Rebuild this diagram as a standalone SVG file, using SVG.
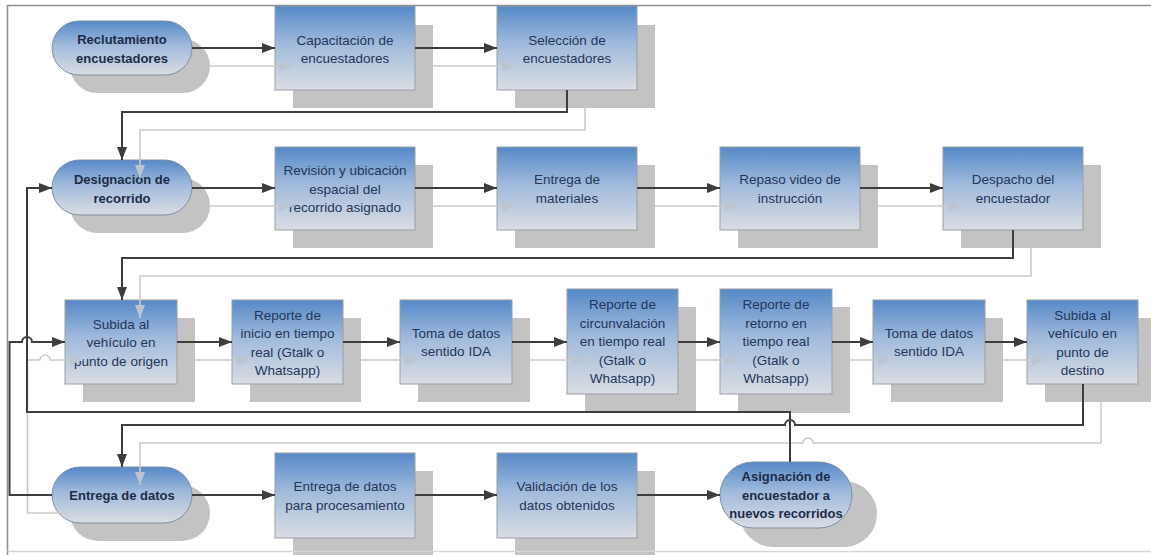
<svg xmlns="http://www.w3.org/2000/svg" width="1151" height="555" viewBox="0 0 1151 555">
<style>
.bg{fill:#ffffff}
.sh{fill:#c3c3c3}
.box{fill:url(#grad);stroke:#9a9fa6;stroke-width:1}
.pill{fill:url(#grad);stroke:#7f8fa2;stroke-width:1}
.t{font-family:"Liberation Sans",Arial,sans-serif;font-size:13.5px;fill:#23365a;text-anchor:middle}
.tb{font-family:"Liberation Sans",Arial,sans-serif;font-size:13px;font-weight:bold;fill:#1c2c48;text-anchor:middle}
.c{fill:none;stroke:#3d3d3d;stroke-width:2}
.cs{fill:none;stroke:#cbcbcb;stroke-width:1.6}
.frame{fill:none;stroke:#8a9097;stroke-width:1.5}
</style>
<defs>
<linearGradient id="grad" x1="0" y1="0" x2="0" y2="1">
<stop offset="0" stop-color="#5689c8"/>
<stop offset="0.45" stop-color="#a0badc"/>
<stop offset="1" stop-color="#dadde3"/>
</linearGradient>
<marker id="ad" markerUnits="userSpaceOnUse" markerWidth="13" markerHeight="10" refX="13" refY="5" orient="auto">
<path d="M0,0 L13,5 L0,10 z" fill="#3d3d3d"/>
</marker>
<marker id="al" markerUnits="userSpaceOnUse" markerWidth="13" markerHeight="10" refX="13" refY="5" orient="auto">
<path d="M0,0 L13,5 L0,10 z" fill="#bcc5cf"/>
</marker>
</defs>
<rect class="bg" x="0" y="0" width="1151" height="555"/>

<!-- Row 1 -->
<g id="n-reclutamiento">
<rect class="sh" x="70" y="39" width="140" height="54" rx="27"/>
<rect class="pill" x="52" y="21" width="140" height="54" rx="27"/>
<text class="tb" x="122" y="44">Reclutamiento</text>
<text class="tb" x="122" y="62.5">encuestadores</text>
</g>
<g id="n-capacitacion">
<rect class="sh" x="293" y="25" width="140" height="83"/>
<rect class="box" x="275" y="6" width="140" height="84"/>
<text class="t" x="345" y="44.5">Capacitación de</text>
<text class="t" x="345" y="63">encuestadores</text>
</g>
<g id="n-seleccion">
<rect class="sh" x="515" y="25" width="140" height="83"/>
<rect class="box" x="497" y="6" width="140" height="84"/>
<text class="t" x="567" y="44.5">Selección de</text>
<text class="t" x="567" y="63">encuestadores</text>
</g>

<!-- Row 2 -->
<g id="n-designacion">
<rect class="sh" x="70" y="178" width="140" height="55" rx="27.5"/>
<rect class="pill" x="52" y="160" width="140" height="55" rx="27.5"/>
<text class="tb" x="122" y="184">Designación de</text>
<text class="tb" x="122" y="202.5">recorrido</text>
</g>
<g id="n-revision">
<rect class="sh" x="293" y="165" width="140" height="83"/>
<rect class="box" x="275" y="147" width="140" height="83"/>
<text class="t" x="345" y="175">Revisión y ubicación</text>
<text class="t" x="345" y="193.5">espacial del</text>
<text class="t" x="345" y="212">recorrido asignado</text>
</g>
<g id="n-materiales">
<rect class="sh" x="515" y="165" width="140" height="83"/>
<rect class="box" x="497" y="147" width="140" height="83"/>
<text class="t" x="567" y="184">Entrega de</text>
<text class="t" x="567" y="202.5">materiales</text>
</g>
<g id="n-repaso">
<rect class="sh" x="738" y="165" width="140" height="83"/>
<rect class="box" x="720" y="147" width="140" height="83"/>
<text class="t" x="790" y="184">Repaso video de</text>
<text class="t" x="790" y="202.5">instrucción</text>
</g>
<g id="n-despacho">
<rect class="sh" x="961" y="165" width="140" height="83"/>
<rect class="box" x="943" y="147" width="140" height="83"/>
<text class="t" x="1013" y="184">Despacho del</text>
<text class="t" x="1013" y="202.5">encuestador</text>
</g>

<!-- Row 3 -->
<g id="n-subida-origen">
<rect class="sh" x="83" y="318" width="112" height="84"/>
<rect class="box" x="65" y="300" width="112" height="84"/>
<text class="t" x="121" y="328.5">Subida al</text>
<text class="t" x="121" y="347">vehículo en</text>
<text class="t" x="121" y="365.5">punto de origen</text>
</g>
<g id="n-reporte-inicio">
<rect class="sh" x="250" y="318" width="111" height="84"/>
<rect class="box" x="232" y="300" width="111" height="84"/>
<text class="t" x="287.5" y="319.5">Reporte de</text>
<text class="t" x="287.5" y="338">inicio en tiempo</text>
<text class="t" x="287.5" y="356.5">real (Gtalk o</text>
<text class="t" x="287.5" y="375">Whatsapp)</text>
</g>
<g id="n-toma-ida-1">
<rect class="sh" x="418" y="318" width="112" height="84"/>
<rect class="box" x="400" y="300" width="112" height="84"/>
<text class="t" x="456" y="337.5">Toma de datos</text>
<text class="t" x="456" y="356">sentido IDA</text>
</g>
<g id="n-circunvalacion">
<rect class="sh" x="585" y="307" width="111" height="106"/>
<rect class="box" x="567" y="289" width="111" height="105"/>
<text class="t" x="622.5" y="309">Reporte de</text>
<text class="t" x="622.5" y="327.5">circunvalación</text>
<text class="t" x="622.5" y="346">en tiempo real</text>
<text class="t" x="622.5" y="364.5">(Gtalk o</text>
<text class="t" x="622.5" y="383">Whatsapp)</text>
</g>
<g id="n-retorno">
<rect class="sh" x="738" y="307" width="112" height="106"/>
<rect class="box" x="720" y="289" width="112" height="105"/>
<text class="t" x="776" y="309">Reporte de</text>
<text class="t" x="776" y="327.5">retorno en</text>
<text class="t" x="776" y="346">tiempo real</text>
<text class="t" x="776" y="364.5">(Gtalk o</text>
<text class="t" x="776" y="383">Whatsapp)</text>
</g>
<g id="n-toma-ida-2">
<rect class="sh" x="891" y="318" width="112" height="84"/>
<rect class="box" x="873" y="300" width="112" height="84"/>
<text class="t" x="929" y="337.5">Toma de datos</text>
<text class="t" x="929" y="356">sentido IDA</text>
</g>
<g id="n-subida-destino">
<rect class="sh" x="1045" y="318" width="112" height="84"/>
<rect class="box" x="1027" y="300" width="111" height="84"/>
<text class="t" x="1082.5" y="319.5">Subida al</text>
<text class="t" x="1082.5" y="338">vehículo en</text>
<text class="t" x="1082.5" y="356.5">punto de</text>
<text class="t" x="1082.5" y="375">destino</text>
</g>

<!-- Row 4 -->
<g id="n-entrega-datos">
<rect class="sh" x="70" y="485" width="140" height="56" rx="28"/>
<rect class="pill" x="52" y="467" width="140" height="56" rx="28"/>
<text class="tb" x="122" y="499.5">Entrega de datos</text>
</g>
<g id="n-entrega-procesamiento">
<rect class="sh" x="293" y="471" width="140" height="85"/>
<rect class="box" x="275" y="453" width="140" height="85"/>
<text class="t" x="345" y="491">Entrega de datos</text>
<text class="t" x="345" y="509.5">para procesamiento</text>
</g>
<g id="n-validacion">
<rect class="sh" x="515" y="471" width="140" height="85"/>
<rect class="box" x="497" y="453" width="140" height="85"/>
<text class="t" x="567" y="491">Validación de los</text>
<text class="t" x="567" y="509.5">datos obtenidos</text>
</g>
<g id="n-asignacion">
<rect class="sh" x="740" y="481" width="137" height="66" rx="33"/>
<rect class="pill" x="720" y="462" width="132" height="66" rx="33"/>
<text class="tb" x="786" y="481">Asignación de</text>
<text class="tb" x="786" y="499.5">encuestador a</text>
<text class="tb" x="786" y="518">nuevos recorridos</text>
</g>

<!-- Connectors -->
<g id="connectors">
<g id="connector-shadows">
<path class="cs" marker-end="url(#al)" d="M210,66 H293"/>
<path class="cs" marker-end="url(#al)" d="M433,66 H515"/>
<path class="cs" marker-end="url(#al)" d="M585,108 V130 H140 V178"/>
<path class="cs" marker-end="url(#al)" d="M210,206 H293"/>
<path class="cs" marker-end="url(#al)" d="M433,206 H515"/>
<path class="cs" marker-end="url(#al)" d="M655,206 H738"/>
<path class="cs" marker-end="url(#al)" d="M878,206 H961"/>
<path class="cs" marker-end="url(#al)" d="M1031,248 V276 H140 V318"/>
<path class="cs" marker-end="url(#al)" d="M70,513 H27.5 V360 H40 A5,5 0 0 1 50,360 H83"/>
<path class="cs" marker-end="url(#al)" d="M195,360 H250"/>
<path class="cs" marker-end="url(#al)" d="M361,360 H418"/>
<path class="cs" marker-end="url(#al)" d="M530,360 H585"/>
<path class="cs" marker-end="url(#al)" d="M696,360 H738"/>
<path class="cs" marker-end="url(#al)" d="M850,360 H891"/>
<path class="cs" marker-end="url(#al)" d="M1003,360 H1045"/>
<path class="cs" marker-end="url(#al)" d="M1101,402 V443 H813 A5,5 0 0 0 803,443 H140 V485"/>
</g>
<g id="connector-lines">
<path class="c" marker-end="url(#ad)" d="M192,48 H275"/>
<path class="c" marker-end="url(#ad)" d="M415,48 H497"/>
<path class="c" marker-end="url(#ad)" d="M567,90 V112 H122 V160"/>
<path class="c" marker-end="url(#ad)" d="M192,188 H275"/>
<path class="c" marker-end="url(#ad)" d="M415,188 H497"/>
<path class="c" marker-end="url(#ad)" d="M637,188 H720"/>
<path class="c" marker-end="url(#ad)" d="M860,188 H943"/>
<path class="c" marker-end="url(#ad)" d="M1013,230 V258 H122 V300"/>
<path class="c" marker-end="url(#ad)" d="M52,495 H9.5 V342 H22 A5,5 0 0 1 32,342 H65"/>
<path class="c" marker-end="url(#ad)" d="M177,342 H232"/>
<path class="c" marker-end="url(#ad)" d="M343,342 H400"/>
<path class="c" marker-end="url(#ad)" d="M512,342 H567"/>
<path class="c" marker-end="url(#ad)" d="M678,342 H720"/>
<path class="c" marker-end="url(#ad)" d="M832,342 H873"/>
<path class="c" marker-end="url(#ad)" d="M985,342 H1027"/>
<path class="c" marker-end="url(#ad)" d="M1083,384 V425 H795 A5,5 0 0 0 785,425 H122 V467"/>
<path class="c" marker-end="url(#ad)" d="M790,462 V412 H27 V188 H52"/>
<path class="c" marker-end="url(#ad)" d="M192,495 H275"/>
<path class="c" marker-end="url(#ad)" d="M415,495 H497"/>
<path class="c" marker-end="url(#ad)" d="M637,495 H720"/>
</g>
</g>

<!-- Frame -->
<path class="frame" d="M7.5,555 V5.5 H1151"/>
<path d="M7.5,551.5 H1151" fill="none" stroke="#d6d6d6" stroke-width="1.5"/>
</svg>
